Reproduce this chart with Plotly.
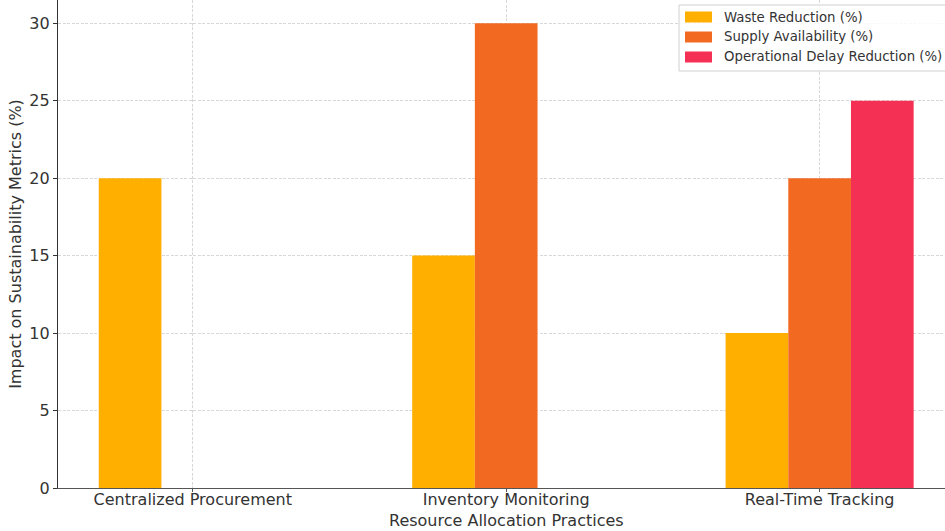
import plotly.graph_objects as go

practices = ["Centralized Procurement", "Inventory Monitoring", "Real-Time Tracking"]
waste_reduction = [20, 15, 10]
supply_availability = [0, 30, 20]
delay_reduction = [0, 0, 25]

series = [
    ("Waste Reduction (%)", waste_reduction, "#FFAF00"),
    ("Supply Availability (%)", supply_availability, "#F26A22"),
    ("Operational Delay Reduction (%)", delay_reduction, "#F43154"),
]

fig = go.Figure()
for name, vals, color in series:
    fig.add_trace(go.Bar(
        x=list(range(len(practices))), y=vals, name=name,
        marker=dict(color=color, line=dict(width=0)),
        showlegend=False,
    ))

font = "DejaVu Sans, sans-serif"
text_color = "#333333"

# legend drawn by hand so the swatches are wide rectangles
plot_w, plot_h, left = 887.0, 488.0, 58.0
def px_x(p):
    return (p - left) / plot_w
def px_y(p):
    return (plot_h - p) / plot_h

shapes = [dict(
    type="rect", xref="paper", yref="paper",
    x0=px_x(679), x1=px_x(960), y0=px_y(71), y1=px_y(5),
    fillcolor="rgba(255,255,255,0.85)", line=dict(color="#d0d0d0", width=1), layer="above",
)]
annotations = []
for i, (name, _, color) in enumerate(series):
    cy = 17 + 20 * i
    shapes.append(dict(
        type="rect", xref="paper", yref="paper",
        x0=px_x(685), x1=px_x(712), y0=px_y(cy + 5.5), y1=px_y(cy - 5.5),
        fillcolor=color, line=dict(width=0), layer="above",
    ))
    annotations.append(dict(
        xref="paper", yref="paper", x=px_x(722), y=px_y(cy),
        xanchor="left", yanchor="middle", text=name, showarrow=False,
        font=dict(family=font, size=13.3, color=text_color),
    ))

# x-axis title
annotations.append(dict(
    xref="paper", yref="paper", x=px_x(507), y=px_y(520),
    xanchor="center", yanchor="middle", text="Resource Allocation Practices",
    showarrow=False, font=dict(family=font, size=16, color=text_color),
))

grid_dash = "3px,1.5px"
fig.update_layout(
    width=945, height=531,
    margin=dict(l=58, r=0, t=0, b=43),
    barmode="group", bargap=0.4, bargroupgap=0,
    plot_bgcolor="white", paper_bgcolor="white",
    font=dict(family=font, size=16, color=text_color),
    showlegend=False,
    shapes=shapes,
    annotations=annotations,
    xaxis=dict(
        range=[-0.43, 2.4],
        tickmode="array", tickvals=list(range(len(practices))), ticktext=practices,
        showgrid=True, gridcolor="#d8d8d8", griddash=grid_dash, gridwidth=1,
        showline=True, linecolor="#555555", linewidth=1.2,
        ticks="outside", ticklen=3, tickcolor="#555555",
        ticklabelstandoff=-6,
        layer="above traces", zeroline=False,
        tickfont=dict(size=16),
    ),
    yaxis=dict(
        range=[0, 31.5],
        tickvals=[0, 5, 10, 15, 20, 25, 30],
        showgrid=True, gridcolor="#d8d8d8", griddash=grid_dash, gridwidth=1,
        showline=True, linecolor="#333333", linewidth=1.2,
        ticks="outside", ticklen=4, tickcolor="#333333",
        layer="above traces", zeroline=False,
        title=dict(text="Impact on Sustainability Metrics (%)", font=dict(size=16), standoff=3),
        tickfont=dict(size=16),
    ),
)

fig.write_html("out.html")
